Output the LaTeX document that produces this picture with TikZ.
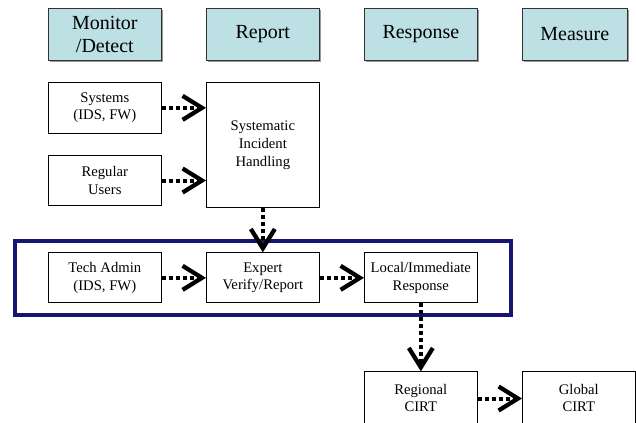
\documentclass[tikz,border=0pt]{standalone}
\usepackage{fontspec}
\setmainfont{Liberation Serif}
\usetikzlibrary{positioning,fit,shadows,arrows.meta}
\definecolor{headblue}{RGB}{188,224,228}
\definecolor{framenavy}{RGB}{22,22,112}

\begin{document}
\begin{tikzpicture}[
  node distance=15.75pt and 33.25pt,
  every node/.style={draw,rectangle,inner sep=1pt,line width=0.75pt,
    minimum width=84.5pt,minimum height=38pt,align=center,
    font=\fontsize{11pt}{13.3pt}\selectfont},
  head/.style={fill=headblue,draw=black!80,minimum height=39pt,
    font=\fontsize{15pt}{17.25pt}\selectfont,
    general shadow={fill=black!40,shadow xshift=1.2pt,shadow yshift=-1.2pt}},
  flow/.style={line width=3pt,dash pattern=on 3pt off 2.25pt,
    -{Straight Barb[length=14.5pt,width=18pt,line width=3.2pt]}},
  cirt/.style={minimum height=40pt,text depth=1pt},
  ]
  \useasboundingbox (0,0) rectangle (477pt,-316.5pt);
  % column heads
  \node[head,anchor=north west] (mon) at (36pt,-6pt) {Monitor\\/Detect};
  \node[head,right=of mon] (rep) {Report};
  \node[head,right=of rep] (res) {Response};
  \node[head,right=of res.north east,anchor=north west,minimum width=78.5pt] (mea) {Measure};
  % reporting
  \node[below=of mon] (sys) {Systems\\(IDS, FW)};
  \node[below=of sys] (usr) {Regular\\Users};
  \node[below=of rep,minimum height=93.75pt] (sih) {Systematic\\Incident\\Handling};
  % expert path
  \node[below=34.5pt of usr,minimum height=37.5pt] (tech) {Tech Admin\\(IDS, FW)};
  \node[right=of tech,minimum height=37.5pt] (exp) {Expert\\Verify/Report};
  \node[right=of exp,minimum height=37.5pt] (loc) {Local/Immediate\\Response};
  \node[draw=framenavy,line width=3pt,inner xsep=24.75pt,inner ysep=8.5pt,
    fit=(tech)(loc)] (frame) {};
  % CIRT
  \node[below=51pt of loc,cirt] (reg) {Regional\\CIRT};
  \node[right=of reg,cirt] (glo) {Global\\CIRT};
  \path[draw]
  (sys) edge[flow] (sys -| sih.west)
  (usr) edge[flow] (usr -| sih.west)
  (sih) edge[flow] (exp)
  (tech) edge[flow] (exp)
  (exp) edge[flow] (loc)
  (loc) edge[flow] (reg)
  (reg) edge[flow] (glo);
\end{tikzpicture}
\end{document}
